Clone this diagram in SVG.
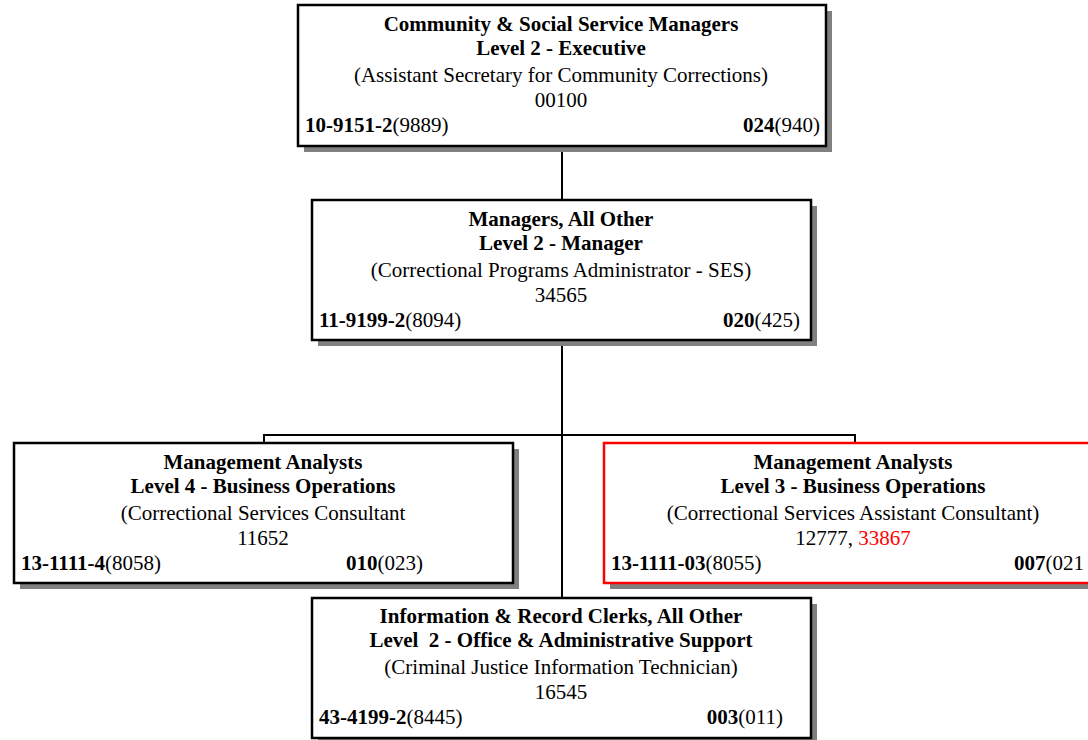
<svg xmlns="http://www.w3.org/2000/svg" width="1088" height="740" viewBox="0 0 1088 740">
  <style>
    text { font-family: "Liberation Serif", "Times New Roman", serif; font-size: 21px; fill: #000; }
    .b { font-weight: bold; }
    .c { text-anchor: middle; }
    .e { text-anchor: end; }
    .box { fill: #fff; stroke: #000; stroke-width: 2.5; }
    .red { stroke: #ff0000; }
    .shadow { fill: #808080; }
    .link { fill: none; stroke: #000; stroke-width: 2; }
    .hl { fill: #ff0000; }
  </style>
  <rect width="1088" height="740" fill="#fff"/>

  <g id="connectors">
    <path class="link" d="M562 146 V200"/>
    <path class="link" d="M562 340 V598"/>
    <path class="link" d="M264 443 V435 H855 V443"/>
  </g>

  <g id="node-executive">
    <rect class="shadow" x="304" y="11" width="528" height="141"/>
    <rect class="box" x="298" y="5" width="528" height="141"/>
    <text class="b c" x="561" y="31">Community &amp; Social Service Managers</text>
    <text class="b c" x="561" y="55">Level 2 - Executive</text>
    <text class="c" x="561" y="82">(Assistant Secretary for Community Corrections)</text>
    <text class="c" x="561" y="107">00100</text>
    <text x="305" y="132"><tspan class="b">10-9151-2</tspan>(9889)</text>
    <text class="e" x="820" y="132"><tspan class="b">024</tspan>(940)</text>
  </g>

  <g id="node-manager">
    <rect class="shadow" x="318" y="206" width="499" height="140"/>
    <rect class="box" x="312" y="200" width="499" height="140"/>
    <text class="b c" x="561" y="226">Managers, All Other</text>
    <text class="b c" x="561" y="250">Level 2 - Manager</text>
    <text class="c" x="561" y="277">(Correctional Programs Administrator - SES)</text>
    <text class="c" x="561" y="302">34565</text>
    <text x="319" y="327"><tspan class="b">11-9199-2</tspan>(8094)</text>
    <text class="e" x="800" y="327"><tspan class="b">020</tspan>(425)</text>
  </g>

  <g id="node-analyst-4">
    <rect class="shadow" x="20" y="449" width="499" height="140"/>
    <rect class="box" x="14" y="443" width="499" height="140"/>
    <text class="b c" x="263" y="469">Management Analysts</text>
    <text class="b c" x="263" y="493">Level 4 - Business Operations</text>
    <text class="c" x="263" y="520">(Correctional Services Consultant</text>
    <text class="c" x="263" y="545">11652</text>
    <text x="21" y="570"><tspan class="b">13-1111-4</tspan>(8058)</text>
    <text class="e" x="423" y="570"><tspan class="b">010</tspan>(023)</text>
  </g>

  <g id="node-analyst-3">
    <rect class="shadow" x="610" y="449" width="500" height="140"/>
    <rect class="box red" x="604" y="443" width="500" height="140"/>
    <text class="b c" x="853" y="469">Management Analysts</text>
    <text class="b c" x="853" y="493">Level 3 - Business Operations</text>
    <text class="c" x="853" y="520">(Correctional Services Assistant Consultant)</text>
    <text class="c" x="853" y="545">12777, <tspan class="hl">33867</tspan></text>
    <text x="611" y="570"><tspan class="b">13-1111-03</tspan>(8055)</text>
    <text x="1014" y="570"><tspan class="b">007</tspan>(021</text>
  </g>

  <g id="node-clerk">
    <rect class="shadow" x="318" y="604" width="499" height="140"/>
    <rect class="box" x="312" y="598" width="499" height="140"/>
    <text class="b c" x="561" y="623">Information &amp; Record Clerks, All Other</text>
    <text class="b c" x="561" y="647" xml:space="preserve">Level  2 - Office &amp; Administrative Support</text>
    <text class="c" x="561" y="674">(Criminal Justice Information Technician)</text>
    <text class="c" x="561" y="699">16545</text>
    <text x="319" y="724"><tspan class="b">43-4199-2</tspan>(8445)</text>
    <text class="e" x="783" y="724"><tspan class="b">003</tspan>(011)</text>
  </g>
</svg>
